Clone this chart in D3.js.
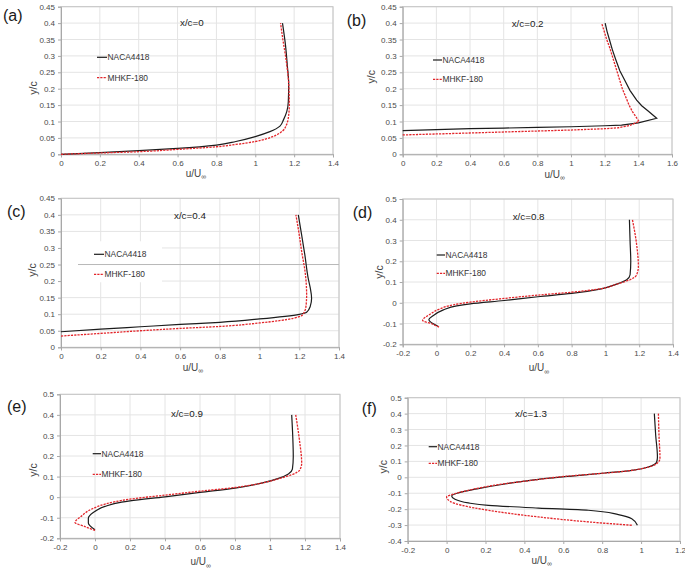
<!DOCTYPE html>
<html><head><meta charset="utf-8">
<script src="https://cdn.jsdelivr.net/npm/d3@7"></script>
<style>body{margin:0;background:#fff}svg{display:block}</style>
</head><body><svg id="c" width="685" height="571"></svg>
<script>
// ---------- tick labels ----------
const xTicks14 = [0,0.2,0.4,0.6,0.8,1,1.2,1.4];
const xTicks16 = [0,0.2,0.4,0.6,0.8,1,1.2,1.4,1.6];
const xTicksN14 = [-0.2,0,0.2,0.4,0.6,0.8,1,1.2,1.4];
const xTicksN12 = [-0.2,0,0.2,0.4,0.6,0.8,1,1.2];
const yTicks045 = [0,0.05,0.1,0.15,0.2,0.25,0.3,0.35,0.4,0.45];
const yTicksN05 = [-0.2,-0.1,0,0.1,0.2,0.3,0.4,0.5];
const yTicksN45 = [-0.4,-0.3,-0.2,-0.1,0,0.1,0.2,0.3,0.4,0.5];
const seriesNames = ["NACA4418","MHKF-180"];
const panelTitles = ["x/c=0","x/c=0.2","x/c=0.4","x/c=0.8","x/c=0.9","x/c=1.3"];
const panelLabels = ["(a)","(b)","(c)","(d)","(e)","(f)"];

// ---------- data: [u/U, y/c] ----------
const nacaA = [[0,0],[0.2,0.005],[0.4,0.011],[0.6,0.018],[0.8,0.028],[0.9,0.039],[1.0,0.054],[1.075,0.069],[1.127,0.086],[1.145,0.105],[1.162,0.13],[1.17,0.16],[1.172,0.215],[1.165,0.27],[1.155,0.335],[1.14,0.40]];
const mhkfA = [[0,0],[0.2,0.004],[0.4,0.008],[0.6,0.015],[0.8,0.023],[0.9,0.03],[1.0,0.039],[1.09,0.054],[1.14,0.071],[1.16,0.089],[1.172,0.12],[1.175,0.15],[1.172,0.215],[1.158,0.29],[1.142,0.35],[1.13,0.40]];
const nacaB = [[0,0.072],[0.2,0.075],[0.4,0.078],[0.6,0.08],[0.8,0.082],[1.0,0.084],[1.2,0.087],[1.3,0.089],[1.4,0.096],[1.509,0.11],[1.46,0.131],[1.42,0.148],[1.39,0.165],[1.35,0.195],[1.32,0.225],[1.29,0.255],[1.265,0.29],[1.245,0.32],[1.228,0.35],[1.214,0.375],[1.203,0.40]];
const mhkfB = [[0,0.059],[0.2,0.062],[0.4,0.065],[0.6,0.068],[0.8,0.071],[1.0,0.074],[1.2,0.078],[1.28,0.081],[1.35,0.088],[1.404,0.10],[1.385,0.115],[1.365,0.13],[1.345,0.15],[1.325,0.175],[1.305,0.2],[1.29,0.225],[1.275,0.25],[1.26,0.275],[1.245,0.30],[1.23,0.325],[1.212,0.35],[1.197,0.375],[1.182,0.40]];
const nacaC = [[0,0.047],[0.2,0.055],[0.4,0.062],[0.6,0.069],[0.8,0.0755],[1.0,0.0856],[1.2,0.0997],[1.237,0.106],[1.255,0.123],[1.262,0.148],[1.255,0.18],[1.245,0.208],[1.228,0.279],[1.212,0.339],[1.195,0.40]];
const mhkfC = [[0,0.034],[0.2,0.042],[0.4,0.05],[0.6,0.057],[0.8,0.063],[1.0,0.0735],[1.17,0.0876],[1.212,0.0957],[1.228,0.11],[1.234,0.125],[1.237,0.158],[1.229,0.229],[1.212,0.289],[1.2,0.339],[1.183,0.40]];
const nacaD = [[0.011,-0.114],[-0.045,-0.082],[-0.018,-0.061],[0.041,-0.034],[0.12,-0.0145],[0.2,-0.005],[0.4,0.011],[0.6,0.029],[0.8,0.045],[0.968,0.066],[1.067,0.09],[1.126,0.111],[1.146,0.135],[1.15,0.199],[1.146,0.295],[1.142,0.40]];
const mhkfD = [[0.015,-0.117],[-0.028,-0.101],[-0.082,-0.085],[-0.038,-0.055],[0.021,-0.029],[0.1,-0.0096],[0.2,0.003],[0.4,0.021],[0.6,0.037],[0.8,0.051],[0.968,0.067],[1.067,0.09],[1.146,0.111],[1.185,0.135],[1.195,0.175],[1.185,0.279],[1.16,0.40]];
const nacaE = [[0,-0.159],[-0.038,-0.126],[-0.038,-0.102],[-0.01,-0.075],[0.057,-0.045],[0.152,-0.024],[0.2,-0.018],[0.4,0.0016],[0.6,0.023],[0.8,0.044],[0.952,0.068],[1.048,0.091],[1.105,0.113],[1.128,0.136],[1.133,0.198],[1.13,0.295],[1.124,0.40]];
const mhkfE = [[0,-0.162],[-0.057,-0.143],[-0.114,-0.123],[-0.076,-0.091],[-0.019,-0.058],[0.057,-0.034],[0.2,-0.0097],[0.4,0.0097],[0.6,0.029],[0.8,0.047],[0.952,0.068],[1.048,0.089],[1.124,0.109],[1.171,0.133],[1.181,0.165],[1.168,0.279],[1.147,0.40]];
const nacaF = [[0.981,-0.301],[0.952,-0.26],[0.883,-0.234],[0.729,-0.207],[0.472,-0.193],[0.215,-0.176],[0.112,-0.161],[0.043,-0.138],[0.026,-0.117],[0.06,-0.098],[0.163,-0.071],[0.3,-0.042],[0.472,-0.0126],[0.643,0.008],[0.815,0.027],[0.952,0.044],[1.037,0.065],[1.08,0.096],[1.084,0.128],[1.075,0.264],[1.068,0.40]];
const mhkfF = [[0.952,-0.301],[0.729,-0.28],[0.472,-0.249],[0.215,-0.207],[0.078,-0.176],[0.018,-0.151],[0.0,-0.123],[0.043,-0.103],[0.129,-0.077],[0.266,-0.046],[0.438,-0.019],[0.609,0.006],[0.78,0.023],[0.917,0.038],[1.02,0.059],[1.08,0.086],[1.097,0.117],[1.092,0.264],[1.089,0.40]];

// ---------- layout ----------
const layout = [
 {naca:nacaA, mhkf:mhkfA, xt:xTicks14, yt:yTicks045, px:[61,333], py:[6.7,154.3], lab:[3,15], tit:[180,22.7], leg:[97,107,57.3,77.7], xTit:[196,173], yTit:[33,88], linear:false},
 {naca:nacaB, mhkf:mhkfB, xt:xTicks16, yt:yTicks045, px:[402.7,672], py:[6.7,154.3], lab:[346.7,20.7], tit:[511.7,23.3], leg:[433,442,60,79.3], xTit:[554.7,174.3], yTit:[371.7,76.7], linear:true},
 {naca:nacaC, mhkf:mhkfC, xt:xTicks14, yt:yTicks045, px:[61,339], py:[198.3,347.3], lab:[7,211.7], tit:[174,215.7], leg:[94,104,254.3,274.3], xTit:[193,367.3], yTit:[32.3,270], linear:false, box:true},
 {naca:nacaD, mhkf:mhkfD, xt:xTicksN14, yt:yTicksN05, px:[402.7,673], py:[199,344.3], lab:[352.7,212.7], tit:[512.7,216.7], leg:[436.7,445,255,273.3], xTit:[539,367.7], yTit:[379,272], linear:false},
 {naca:nacaE, mhkf:mhkfE, xt:xTicksN14, yt:yTicksN05, px:[60,340], py:[394.3,538.3], lab:[7,406.7], tit:[171,413.3], leg:[92.7,101,453.7,474.3], xTit:[200.7,561.7], yTit:[33.3,470], linear:false},
 {naca:nacaF, mhkf:mhkfF, xt:xTicksN12, yt:yTicksN45, px:[407.7,680], py:[397.7,541], lab:[361.7,408.3], tit:[515,413.3], leg:[428.7,437,446.7,463.3], xTit:[541.7,560], yTit:[383.3,466.7], linear:false}
];

const FONT = "'Liberation Sans', Arial, sans-serif";
const svg = d3.select("#c").style("font-family", FONT);
svg.append("rect").attr("width",685).attr("height",571).attr("fill","#fff");
const fmt = v => String(+v.toFixed(2)).replace("\u2212","-");
const BLACK = "#1c1c1c", RED = "#e3262b";

layout.forEach((p, i) => {
  const x = d3.scaleLinear().domain([p.xt[0], p.xt[p.xt.length-1]]).range(p.px);
  const y = d3.scaleLinear().domain([p.yt[0], p.yt[p.yt.length-1]]).range([p.py[1], p.py[0]]);
  const g = svg.append("g");

  // gridlines
  g.append("g").selectAll("line").data(p.xt.slice(1)).join("line")
    .attr("x1", d => x(d)).attr("x2", d => x(d)).attr("y1", p.py[0]).attr("y2", p.py[1])
    .attr("stroke", "#e4e4e4").attr("stroke-width", 1);
  g.append("g").selectAll("line").data(p.yt.slice(1)).join("line")
    .attr("y1", d => y(d)).attr("y2", d => y(d)).attr("x1", p.px[0]).attr("x2", p.px[1])
    .attr("stroke", "#e4e4e4").attr("stroke-width", 1);

  // plot border
  g.append("rect").attr("x", p.px[0]).attr("y", p.py[0])
    .attr("width", p.px[1]-p.px[0]).attr("height", p.py[1]-p.py[0])
    .attr("fill", "none").attr("stroke", "#c4c4c4").attr("stroke-width", 1);

  // axes
  const xa = d3.axisBottom(x).tickValues(p.xt).tickFormat(fmt).tickSize(3).tickPadding(3);
  const ya = d3.axisLeft(y).tickValues(p.yt).tickFormat(fmt).tickSize(3).tickPadding(3);
  const gx = g.append("g").attr("transform", `translate(0,${p.py[1]})`).call(xa);
  const gy = g.append("g").attr("transform", `translate(${p.px[0]},0)`).call(ya);
  [gx, gy].forEach(a => {
    a.select(".domain").attr("stroke", "#a8a8a8");
    a.selectAll(".tick line").attr("stroke", "#a8a8a8");
    a.selectAll("text").attr("fill", "#4a4a4a").style("font-size", "8px").style("font-family", FONT);
  });

  // legend background box (panel c)
  if (p.box) {
    g.append("rect").attr("x", p.px[0]+1).attr("y", p.leg[2]-13).attr("width", 100).attr("height", 41).attr("fill", "#fff");
    g.append("line").attr("x1", p.leg[0]-16).attr("x2", p.px[1]).attr("y1", y(0.25)).attr("y2", y(0.25))
      .attr("stroke", "#b8b8b8").attr("stroke-width", 1);
  }

  // series
  const line = d3.line().x(d => x(d[0])).y(d => y(d[1]))
    .curve(p.linear ? d3.curveLinear : d3.curveMonotoneY);
  g.append("path").datum(p.naca).attr("d", line).attr("fill", "none")
    .attr("stroke", BLACK).attr("stroke-width", 1.2);
  g.append("path").datum(p.mhkf).attr("d", line).attr("fill", "none")
    .attr("stroke", RED).attr("stroke-width", 1.3).attr("stroke-dasharray", "2.2,1.1");

  // legend
  const [lx0, lx1, ly1, ly2] = p.leg;
  g.append("line").attr("x1", lx0).attr("x2", lx1).attr("y1", ly1).attr("y2", ly1).attr("stroke", BLACK).attr("stroke-width", 1.2);
  g.append("line").attr("x1", lx0).attr("x2", lx1).attr("y1", ly2).attr("y2", ly2).attr("stroke", RED).attr("stroke-width", 1.3).attr("stroke-dasharray", "2.2,1.1");
  g.append("text").attr("x", lx1+0.5).attr("y", ly1).attr("dy", "0.35em").text(seriesNames[0]).attr("fill", "#333").style("font-size", "8.4px");
  g.append("text").attr("x", lx1+0.5).attr("y", ly2).attr("dy", "0.35em").text(seriesNames[1]).attr("fill", "#333").style("font-size", "8.4px");

  // title
  g.append("text").attr("x", p.tit[0]).attr("y", p.tit[1]).attr("dy", "0.35em").text(panelTitles[i]).attr("fill", "#222").style("font-size", "9.8px");
  // panel label
  g.append("text").attr("x", p.lab[0]).attr("y", p.lab[1]).attr("dy", "0.35em").text(panelLabels[i]).attr("fill", "#1a1a1a").style("font-size", "16px");

  // axis titles
  const xt = g.append("text").attr("x", p.xTit[0]).attr("y", p.xTit[1]).attr("dy", "0.35em")
    .attr("text-anchor", "middle").attr("fill", "#444").style("font-size", "10px");
  xt.append("tspan").text("u/U");
  xt.append("tspan").attr("dy", "2.5").style("font-size", "7px").text("\u221E");
  g.append("text").attr("transform", `translate(${p.yTit[0]},${p.yTit[1]}) rotate(-90)`)
    .attr("dy", "0.35em").attr("text-anchor", "middle").attr("fill", "#444").style("font-size", "10.5px").text("y/c");
});
</script></body></html>
